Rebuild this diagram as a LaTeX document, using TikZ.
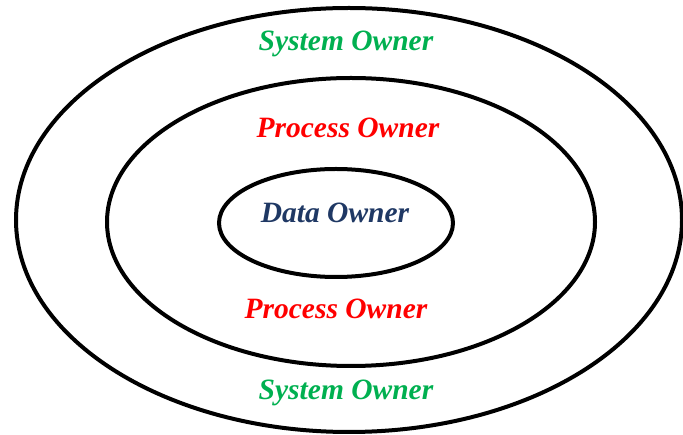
\documentclass[tikz,border=0pt]{standalone}
\usepackage{fontspec}
\setmainfont{Liberation Serif}
\definecolor{sysgreen}{HTML}{00B050}
\definecolor{procred}{HTML}{FF0000}
\definecolor{datanavy}{HTML}{1F3864}
\begin{document}
\begin{tikzpicture}[x=1pt,y=-1pt,
  ring/.style={draw=black,line width=4pt},
  lbl/.style={font=\fontsize{29.5}{34}\selectfont\bfseries\itshape,inner sep=0pt}]
\useasboundingbox (0,0) rectangle (683,435);
\draw[ring] (349,220) ellipse [x radius=333, y radius=212];
\draw[ring] (351,222) ellipse [x radius=244, y radius=144];
\draw[ring] (336,223) ellipse [x radius=117, y radius=54];
\node[lbl,text=sysgreen] (s1) at (346,44) {System Owner};
\node[lbl,text=procred] (p1) at (348,128) {Process Owner};
\node[lbl,text=datanavy] (d) at (335,213) {Data Owner};
\node[lbl,text=procred] (p2) at (336,309) {Process Owner};
\node[lbl,text=sysgreen] (s2) at (346,393) {System Owner};
\end{tikzpicture}
\end{document}
